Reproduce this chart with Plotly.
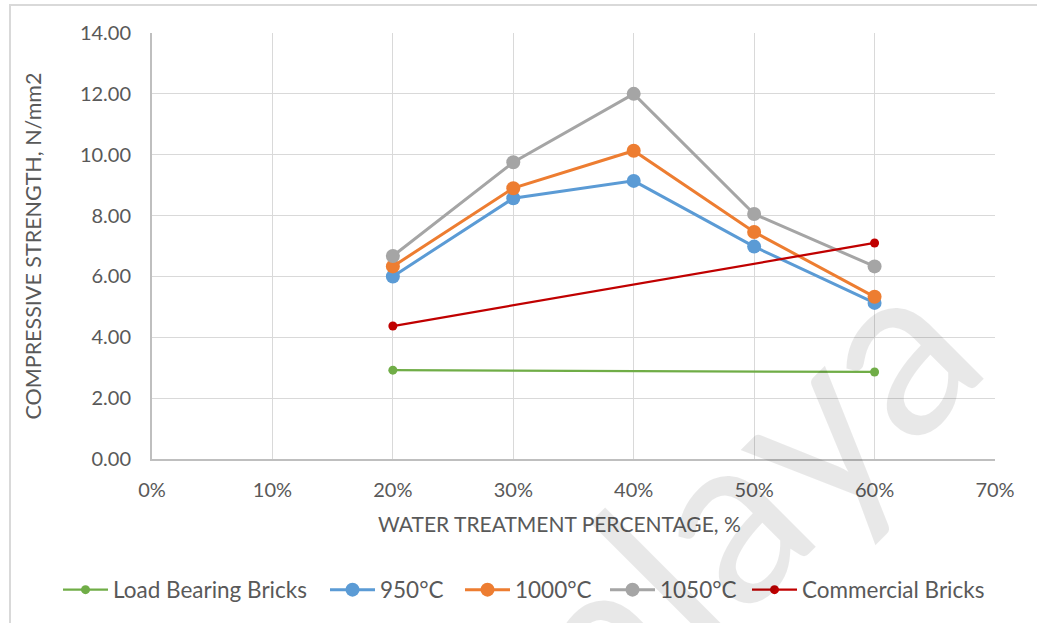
import plotly.graph_objects as go

x_pct = [0.2, 0.3, 0.4, 0.5, 0.6]
s950 = [6.00, 8.57, 9.14, 6.98, 5.13]
s1000 = [6.33, 8.90, 10.13, 7.46, 5.33]
s1050 = [6.67, 9.75, 12.00, 8.05, 6.33]
x_ends = [0.2, 0.6]
load_bearing = [2.92, 2.86]
commercial = [4.37, 7.10]

FONT = "Lato"
TXT = "#595959"

L, R, T, B = 152, 42, 33, 164
W, H = 1037, 623
PW, PH = W - L - R, H - T - B


def px2x(px):
    return (px - L) / PW


def py2y(py):
    return (H - B - py) / PH


fig = go.Figure()
fig.add_trace(go.Scatter(x=x_ends, y=load_bearing, name="Load Bearing Bricks", mode="lines+markers",
                         line=dict(color="#70AD47", width=2.25), marker=dict(size=9, color="#70AD47"),
                         legend="legend"))
fig.add_trace(go.Scatter(x=x_pct, y=s950, name="950°C", mode="lines+markers",
                         line=dict(color="#5B9BD5", width=3), marker=dict(size=14, color="#5B9BD5"),
                         legend="legend2"))
fig.add_trace(go.Scatter(x=x_pct, y=s1000, name="1000°C", mode="lines+markers",
                         line=dict(color="#ED7D31", width=3), marker=dict(size=14, color="#ED7D31"),
                         legend="legend3"))
fig.add_trace(go.Scatter(x=x_pct, y=s1050, name="1050°C", mode="lines+markers",
                         line=dict(color="#A5A5A5", width=3), marker=dict(size=14, color="#A5A5A5"),
                         legend="legend4"))
fig.add_trace(go.Scatter(x=x_ends, y=commercial, name="Commercial Bricks", mode="lines+markers",
                         line=dict(color="#C00000", width=2.25), marker=dict(size=9, color="#C00000"),
                         legend="legend5"))

leg_starts = [63, 330, 465, 610, 752]
leg_common = dict(orientation="h", xanchor="left", y=py2y(590), yanchor="middle",
                  font=dict(size=22.5, color=TXT, family=FONT), itemwidth=45, bgcolor="rgba(0,0,0,0)")
legends = {}
for i, ls in enumerate(leg_starts):
    key = "legend" if i == 0 else f"legend{i + 1}"
    legends[key] = dict(x=px2x(ls - 5), **leg_common)

fig.update_layout(
    width=W, height=H,
    margin=dict(l=L, r=R, t=T, b=B),
    paper_bgcolor="white", plot_bgcolor="white",
    font=dict(family=FONT, color=TXT, size=20),
    showlegend=True,
    xaxis=dict(range=[0, 0.7], dtick=0.1, tick0=0, tickformat=".0%",
               showgrid=True, gridcolor="#D9D9D9", gridwidth=1.3,
               showline=True, linecolor="#BFBFBF", linewidth=2, zeroline=False,
               ticks="", ticklabelstandoff=12),
    yaxis=dict(range=[0, 14], dtick=2, tick0=0, tickformat=".2f",
               showgrid=True, gridcolor="#D9D9D9", gridwidth=1.3,
               showline=True, linecolor="#BFBFBF", linewidth=2, zeroline=False,
               ticks="", ticklabelstandoff=15,
               title=dict(text="COMPRESSIVE STRENGTH, N/mm2", font=dict(size=21.5, color=TXT), standoff=32)),
    shapes=[
        dict(type="rect", xref="paper", yref="paper", x0=px2x(10), x1=px2x(1100), y0=py2y(5), y1=py2y(700),
             line=dict(color="#D9D9D9", width=2), fillcolor="rgba(0,0,0,0)", layer="above"),
    ],
    annotations=[
        dict(text="WATER TREATMENT PERCENTAGE, %", xref="paper", yref="paper", x=px2x(559), y=py2y(523),
             xanchor="center", yanchor="middle", showarrow=False, font=dict(size=21, color=TXT, family=FONT)),
        dict(text="Malaya", xref="paper", yref="paper", x=0.606, y=-0.255, xanchor="center", yanchor="middle",
             showarrow=False, textangle=-45, font=dict(family=FONT, size=240, color="rgba(0,0,0,0.09)")),
    ],
    **legends,
)

fig.write_html("out.html", config={"displayModeBar": False},
               post_script="document.body.style.margin='0';document.body.style.overflow='hidden';")
